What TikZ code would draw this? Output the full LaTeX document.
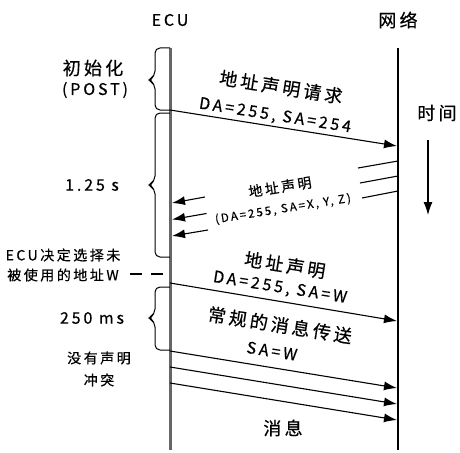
\documentclass[tikz,border=0pt]{standalone}
\usepackage{fontspec}
\newfontfamily\zh{Noto Sans CJK SC}[LetterSpace=18, FakeBold=0.5]
\usetikzlibrary{arrows.meta}
\begin{document}
\begin{tikzpicture}[x=1pt,y=-1pt,
  big/.style={font=\zh\fontsize{18}{20}\selectfont, inner sep=0pt},
  lat/.style={font=\zh\fontsize{16}{18}\selectfont, inner sep=0pt},
  small/.style={font=\zh\fontsize{14}{16}\selectfont, inner sep=0pt},
  tiny/.style={font=\zh\fontsize{11.5}{13}\selectfont, inner sep=0pt},
  eculine/.style={line width=3pt, black!60},
  netline/.style={line width=1.6pt, black},
  brc/.style={line width=1pt, rounded corners=5pt},
  msg/.style={line width=1.1pt, -{Latex[length=13pt,width=9pt]}},
  stub/.style={line width=1.1pt},
]
\useasboundingbox (0,0) rectangle (460,452);

% lifelines
\coordinate (ecuTop) at (170,48);
\coordinate (ecuBot) at (170,450);
\coordinate (netTop) at (398,48);
\coordinate (netBot) at (398,450);
\draw[eculine] (ecuTop) -- (ecuBot);
\draw[netline] (netTop) -- (netBot);

\node[lat] (ecu) at (170,20) {ECU};
\node[big] (net) at (398,20) {网络};

% braces
\draw[brc] (170,48) -- (155,48) -- (155,76) -- (148,80) -- (155,84) -- (155,110) -- (170,110);
\draw[brc] (170,113) -- (155,113) -- (155,181) -- (148,185) -- (155,189) -- (155,257) -- (170,257);
\draw[brc] (170,287) -- (155,287) -- (155,314) -- (148,318) -- (155,322) -- (155,350) -- (170,350);

% dashed marker
\coordinate (dA) at (130,274);
\coordinate (dB) at (170,274);
\draw[line width=1.1pt, dash pattern=on 12pt off 9pt] (dA) -- (dB);

% left labels
\node[big] (init) at (93,68) {初始化};
\node[lat] (post) at (95,90) {(POST)};
\node[lat] (t1) at (92,185) {1.25 s};
\node[small] (dec1) at (63,255) {ECU决定选择未};
\node[small] (dec2) at (63,275) {被使用的地址W};
\node[lat] (t2) at (92,318) {250 ms};
\node[small] (nc1) at (99,358) {没有声明};
\node[small] (nc2) at (99,380) {冲突};

% time arrow
\node[big] (time) at (437,113) {时间};
\coordinate (tA) at (428,140);
\coordinate (tB) at (428,215);
\draw[msg] (tA) -- (tB);

% request
\coordinate (r1) at (170,110);
\coordinate (r2) at (397,146);
\draw[msg] (r1) -- (r2);
\node[big, rotate=-9] (reqA) at (281,87) {地址声明请求};
\node[lat, rotate=-9] (reqB) at (275,116) {DA=255, SA=254};

% incoming claims (broken lines)
\foreach \i in {0,1,2}{
  \coordinate (sa\i) at (398,{161+15*\i});
  \coordinate (sb\i) at ({358+2*\i},{168+15*\i});
  \draw[stub] (sa\i) -- (sb\i);
  \coordinate (ca\i) at ({205+1.5*\i},{197+16.5*\i});
  \coordinate (cb\i) at (172,{203+16.5*\i});
  \draw[msg] (ca\i) -- (cb\i);
}
\node[small, rotate=9] (clA) at (280,187) {地址声明};
\node[tiny, rotate=9] (clB) at (283,209) {(DA=255, SA=X, Y, Z)};

% own claim
\coordinate (w1) at (170,283);
\coordinate (w2) at (397,321);
\draw[msg] (w1) -- (w2);
\node[big, rotate=-9] (wA) at (285,265) {地址声明};
\node[lat, rotate=-9] (wB) at (280,288) {DA=255, SA=W};

% normal traffic
\node[big, rotate=-9] (mA) at (280,325) {常规的消息传送};
\node[lat, rotate=-9] (mB) at (272,351) {SA=W};
\foreach \i in {0,1,2}{
  \coordinate (m\i) at (170,{351+16*\i});
  \coordinate (n\i) at (397,{388+16*\i});
  \draw[msg] (m\i) -- (n\i);
}
\node[big] (msgs) at (283,428) {消息};
\end{tikzpicture}
\end{document}
